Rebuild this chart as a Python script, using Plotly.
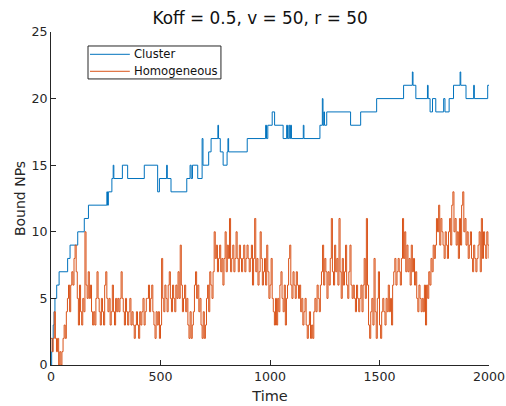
import plotly.graph_objects as go

# Cluster: change points (time, bound NPs) of the stair line
cluster_t = [0, 3, 7, 10, 14, 18, 26, 37, 76, 87, 122, 152, 171, 255, 258, 262, 278, 284, 287, 326,
             350, 426, 487, 495, 528, 531, 548, 620, 635, 640, 646, 670, 690, 694, 720, 731, 762, 765,
             773, 786, 804, 808, 811, 896, 980, 984, 990, 1010, 1021, 1060, 1076, 1080, 1086, 1090,
             1094, 1098, 1152, 1155, 1228, 1239, 1242, 1246, 1249, 1259, 1368, 1414, 1487, 1610,
             1650, 1653, 1666, 1719, 1722, 1731, 1742, 1757, 1793, 1799, 1818, 1838, 1868, 1871,
             1895, 1930, 1933, 1994, 2000]
cluster_v = [0, 1, 2, 3, 4, 5, 6, 7, 8, 9, 10, 11, 12, 13, 12, 13, 14, 15, 14, 15,
             14, 15, 13, 14, 15, 14, 13, 14, 15, 14, 15, 14, 17, 15, 16, 17, 18, 17,
             16, 15, 16, 17, 16, 17, 18, 17, 18, 19, 18, 17, 18, 17, 18, 17,
             18, 17, 18, 17, 18, 20, 18, 19, 18, 19, 18, 19, 20, 21,
             22, 21, 20, 21, 20, 19, 20, 19, 20, 19, 20, 21, 22, 21,
             20, 21, 20, 21, 21]

# Homogeneous: sampled every 5 time units
hom_t = list(range(0, 2001, 5))
hom_v = [
    2, 1, 2, 4, 2, 1, 2, 0, 1, 0, 1, 2, 3, 2, 4, 5, 6, 4, 6, 7,      # 0-95
    6, 8, 9, 7, 5, 3, 6, 4, 3, 5, 4, 10, 6, 5, 7, 5, 6, 4, 3, 4,     # 100-195
    3, 5, 7, 5, 4, 3, 5, 4, 3, 6, 7, 5, 4, 5, 3, 4, 6, 4, 3, 5,      # 200-295
    4, 5, 4, 5, 7, 5, 4, 3, 5, 4, 3, 4, 5, 3, 4, 3, 2, 3, 4, 3,      # 300-395
    2, 4, 3, 4, 5, 3, 4, 5, 5, 6, 4, 5, 6, 4, 3, 2, 4, 3, 4, 2,      # 400-495
    3, 8, 5, 4, 6, 5, 4, 6, 7, 5, 4, 6, 5, 4, 6, 5, 7, 5, 9, 6,      # 500-595
    4, 5, 6, 4, 5, 3, 2, 4, 2, 3, 4, 6, 7, 5, 6, 4, 5, 3, 2, 4,      # 600-695
    2, 3, 5, 6, 4, 7, 6, 5, 7, 10, 8, 9, 7, 8, 9, 7, 8, 6, 8, 10,    # 700-795
    7, 9, 8, 11, 7, 8, 9, 7, 8, 10, 8, 7, 9, 8, 7, 8, 9, 7, 8, 9,    # 800-895
    8, 7, 8, 9, 6, 8, 11, 7, 8, 6, 7, 10, 8, 6, 7, 8, 6, 9, 7, 5,    # 900-995
    6, 8, 5, 4, 3, 5, 3, 5, 4, 6, 7, 5, 4, 6, 3, 5, 6, 8, 9, 6,      # 1000-1095
    5, 7, 6, 5, 7, 6, 5, 6, 4, 5, 3, 4, 5, 3, 2, 3, 4, 2, 3, 2,      # 1100-1195
    4, 5, 4, 6, 5, 4, 6, 7, 9, 6, 8, 7, 5, 7, 6, 8, 11, 7, 6, 9,     # 1200-1295
    7, 8, 6, 11, 7, 5, 8, 6, 7, 9, 6, 5, 7, 9, 6, 5, 6, 5, 4, 6,     # 1300-1395
    5, 4, 5, 6, 4, 6, 8, 5, 11, 6, 3, 2, 4, 5, 3, 8, 4, 2, 5, 7,     # 1400-1495
    3, 2, 4, 5, 4, 3, 5, 4, 6, 4, 5, 3, 6, 7, 8, 6, 7, 8, 7, 6,      # 1500-1595
    8, 11, 8, 10, 7, 9, 7, 8, 6, 9, 7, 8, 6, 7, 5, 4, 6, 5, 4, 5,    # 1600-1695
    4, 6, 3, 6, 5, 7, 6, 8, 7, 9, 8, 9, 11, 10, 12, 9, 11, 10, 9, 8, # 1700-1795
    10, 9, 8, 10, 11, 9, 12, 13, 10, 11, 9, 10, 8, 11, 9, 12, 13, 10, 11, 9,  # 1800-1895
    10, 8, 9, 10, 8, 7, 9, 8, 7, 8, 9, 10, 7, 11, 8, 10, 9, 8, 10, 9,  # 1900-1995
    8,                                                                 # 2000
]

series_names = ["Cluster", "Homogeneous"]
series_colors = ["#0072BD", "#D95319"]

x_ticks = [0, 500, 1000, 1500, 2000]
y_ticks = [0, 5, 10, 15, 20, 25]

axis_col = "#262626"
font_family = "DejaVu Sans"

fig = go.Figure()
fig.add_trace(go.Scatter(x=cluster_t, y=cluster_v, mode="lines", name=series_names[0],
                         line=dict(color=series_colors[0], width=1, shape="hv"),
                         showlegend=False))
fig.add_trace(go.Scatter(x=hom_t, y=hom_v, mode="lines", name=series_names[1],
                         line=dict(color=series_colors[1], width=1, shape="hv"),
                         showlegend=False))

# Legend box drawn in axes (paper) coordinates, MATLAB style
shapes = [dict(type="rect", xref="paper", yref="paper", x0=0.0845, x1=0.388, y0=0.859, y1=0.958,
               line=dict(color=axis_col, width=1), fillcolor="white", layer="above")]
annotations = []
row_y = [0.933, 0.882]
for name, col, yy in zip(series_names, series_colors, row_y):
    shapes.append(dict(type="line", xref="paper", yref="paper", x0=0.089, x1=0.180, y0=yy, y1=yy,
                       line=dict(color=col, width=1), layer="above"))
    annotations.append(dict(text=name, xref="paper", yref="paper", x=0.186, y=yy,
                            xanchor="left", yanchor="middle", showarrow=False,
                            font=dict(size=11.6, color="#111111", family=font_family)))

fig.update_layout(
    width=506, height=406,
    margin=dict(l=51, r=17, t=32, b=41, autoexpand=False),
    paper_bgcolor="white", plot_bgcolor="white",
    font=dict(family=font_family, size=12.6, color=axis_col),
    title=dict(text="Koff = 0.5, v = 50, r = 50", x=0.514, xanchor="center",
               y=0.956, yanchor="middle", font=dict(size=16.9, color="#111111")),
    showlegend=False,
    hovermode=False,
    shapes=shapes,
    annotations=annotations,
)
fig.update_xaxes(range=[0, 2000], tickvals=x_ticks, ticks="inside", ticklen=5,
                 tickcolor=axis_col, showline=True, linecolor=axis_col, linewidth=1,
                 showgrid=False, zeroline=False, mirror=False, automargin=False,
                 ticklabeloverflow="allow",
                 title=dict(text="Time", font=dict(size=14.5), standoff=7))
fig.update_yaxes(range=[0, 25], tickvals=y_ticks, ticks="inside", ticklen=5,
                 tickcolor=axis_col, showline=True, linecolor=axis_col, linewidth=1,
                 showgrid=False, zeroline=False, mirror=False, automargin=False,
                 ticklabeloverflow="allow",
                 title=dict(text="Bound NPs", font=dict(size=14), standoff=2))

fig.write_html("out.html", config={"displayModeBar": False},
               post_script="document.body.style.margin='0';document.body.style.overflow='hidden';")
